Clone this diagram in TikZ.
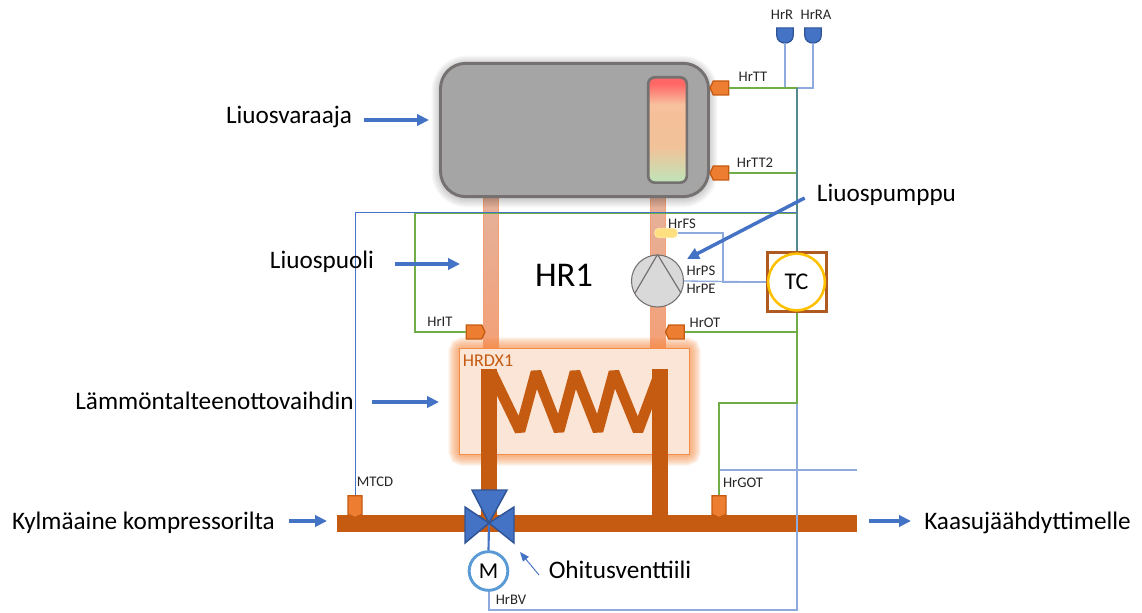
\documentclass[tikz,border=0pt]{standalone}
\usepackage{fontspec}
\setmainfont{Carlito}
\usetikzlibrary{positioning,arrows.meta,shapes.symbols}
\definecolor{pipeorange}{RGB}{197, 90, 17}
\definecolor{sensorfill}{RGB}{237, 125, 49}
\definecolor{arrowblue}{RGB}{68, 114, 196}
\definecolor{signalblue}{RGB}{143, 170, 220}
\definecolor{signalgreen}{RGB}{112, 173, 71}
\definecolor{valveedge}{RGB}{47, 85, 151}
\definecolor{tankgrey}{RGB}{165, 165, 165}
\definecolor{tankedge}{RGB}{118, 113, 113}
\definecolor{glow}{RGB}{244, 140, 70}
\definecolor{hxfill}{RGB}{251, 229, 214}
\definecolor{tcbrown}{RGB}{174, 90, 33}
\definecolor{tcyellow}{RGB}{255, 192, 0}
\definecolor{motorblue}{RGB}{91, 155, 213}
\definecolor{pipetop}{RGB}{228, 178, 156}
\definecolor{pipebottom}{RGB}{244, 160, 118}
\pgfdeclareverticalshading{gaugefill}{100bp}{
  rgb(0bp)=(.77,.88,.71);
  rgb(27bp)=(.77,.88,.71); rgb(42bp)=(.95,.76,.60); rgb(58bp)=(.96,.75,.60);
  rgb(62bp)=(.97,.76,.62); rgb(72bp)=(1,.40,.40); rgb(100bp)=(1,.40,.40)}
\tikzset{
  bigtext/.style={font=\fontsize{18.9}{21}\selectfont, inner sep=0pt},
  smalllabel/.style={font=\fontsize{11}{13}\selectfont, inner sep=0pt, text=black!85},
  leftsensor/.style={signal, signal to=west, signal from=nowhere, signal pointer angle=130, draw=pipeorange, fill=sensorfill,
    line width=1pt, inner sep=0pt, minimum width=14pt, minimum height=10.5pt},
  rightsensor/.style={leftsensor, signal to=east},
  downsensor/.style={leftsensor, signal to=south, minimum width=10.5pt, minimum height=14pt},
  greenline/.style={signalgreen, line width=1.5pt},
  blueline/.style={signalblue, line width=1pt},
  thinblue/.style={arrowblue, line width=.7pt},
  callout/.style={arrowblue, line width=2.3pt, -{Triangle[length=9pt,width=8.5pt]}},
  tubepipe/.style={top color=pipetop, bottom color=pipebottom, draw=pipebottom, line width=.7pt},
  pipewall/.style={pipeorange, line width=12.5pt},
  valvepart/.style={fill=arrowblue, draw=valveedge, line width=1.1pt},
}
\begin{document}
\begin{tikzpicture}[x=.75pt,y=-.75pt]
\useasboundingbox (0,0) rectangle (1142,613);

% Pipes from the tank
\path[tubepipe] (483,196) rectangle (498,350);
\path[tubepipe] (650,196) rectangle (665,350);

% Shadow and tank
\foreach \w in {2,4,...,14} {
    \draw[black, opacity=.03, line width=\w pt, rounded corners=19pt] (441,65) rectangle (708,198);
}
\node[draw=tankedge, fill=tankgrey, line width=2.2pt, rounded corners=19pt, minimum width=201pt, minimum height=100pt, inner sep=0pt] (tank) at (574.5,130) {};
\node[draw=tankedge, shading=gaugefill, line width=2pt, rounded corners=5pt, minimum width=29pt, minimum height=79pt, inner sep=0pt] (gauge) at (667.5,130) {};

% Heat exchanger glow and box
\foreach \w in {2,4,...,16} {
    \draw[glow, opacity=.12, line width=\w pt, rounded corners=3pt] (459,348) rectangle (690,455);
}
\node[draw=glow, fill=hxfill, line width=.9pt, minimum width=173pt, minimum height=80pt, inner sep=0pt] (hrdx) at (574.5,401.5) {};
\node[font=\fontsize{13.5}{15}\selectfont, text=pipeorange, inner sep=0pt] (hrdxlabel) at (488,361) {HRDX1};

% Junctions on the signal lines
\coordinate (busTop) at (797,88);
\coordinate (busBottom) at (797,610);
\coordinate (busTurn) at (797,403);
\coordinate (leftTop) at (355,212);
\coordinate (greenTop) at (415,213);
\coordinate (gotRight) at (857,470);
\coordinate (fsTurn) at (723,233);

% Sensors
\node[leftsensor] (hrTT) at (721,88) {};
\node[leftsensor] (hrTT2) at (721,173) {};
\node[rightsensor] (hrIT) at (474,332) {};
\node[leftsensor] (hrOT) at (676.5,332) {};
\node[draw=tcbrown, line width=2.3pt, minimum size=44pt, inner sep=0pt] (tc) at (797,282) {};
\node[draw=tcyellow, fill=white, circle, line width=1.9pt, minimum size=42.5pt, inner sep=0pt, font=\fontsize{18}{20}\selectfont] (tccircle) at (796.5,282) {TC};
\node[draw=tankedge, fill=black!15, circle, line width=.8pt, minimum size=39pt, inner sep=0pt] (pump) at (657.5,281) {};
\node[fill=tcyellow!50!white, draw=tcyellow!35!white, rounded corners=3pt, line width=.6pt, minimum width=17pt, minimum height=7pt, inner sep=0pt] (hrFS) at (666,233) {};
\draw[tankedge, line width=.9pt] (pump.north) -- (635,293);
\draw[tankedge, line width=.9pt] (pump.north) -- (681,293);

% Two alarm sensors
\foreach \x/\name in {785/hrR,813/hrRA} {
    \node[inner sep=0pt, minimum width=12pt, minimum height=11pt] (\name) at (\x,35.5) {};
    \filldraw[fill=arrowblue, draw=valveedge, line width=.9pt] (\name.north west) -- (\name.north east) -- (\name.east) .. controls +(0,5) and +(4,0) .. (\name.south) .. controls +(-4,0) and +(0,5) .. (\name.west) -- cycle;
}

% Coil and refrigerant pipe
\draw[pipeorange, line width=8pt, line join=bevel] (491,371) -- (520,431) -- (536,372) -- (559,431) -- (575,372) -- (598,431) -- (614,372) -- (638,431) -- (660,372);
\draw[pipewall] (489,369) -- (489,515);
\draw[pipewall] (660,369) -- (660,515);
\fill[pipeorange] (337,515) rectangle (857,532);

% Sensors on the pipe
\node[downsensor] (mtcd) at (355,505) {};
\node[downsensor] (hrGOT) at (719,505) {};

% Signal lines
\draw[blueline] (hrR.south) |- (busTop);
\draw[blueline] (hrRA.south) |- (busTop);
\draw[blueline] (tc.south) -- (busBottom) -| (489,591);
\draw[blueline] (hrGOT.north) |- (gotRight);
\draw[greenline] (hrTT.east) -- (busTop) -- (tc.north);
\draw[greenline] (hrTT2.east) -- (hrTT2.east -| busTop);
\draw[greenline] (hrIT.west) -| (greenTop) -- (greenTop -| busTop);
\draw[greenline] (tc.south) -- (busTurn) -| (hrGOT.north);
\draw[greenline] (hrOT.east) -- (hrOT.east -| busTop);
\draw[arrowblue, opacity=.6, line width=1pt] (busTop) -- (tc.north);
\draw[thinblue] (mtcd.north) -- (leftTop) -- (leftTop -| busTop);
\draw[blueline] (hrFS.east) -- (fsTurn) |- (tc.west);
\draw[blueline] (pump.east) -- (tc.west);

% Valve and motor
\coordinate (valve) at (489,523);
\node[draw=motorblue, fill=white, circle, line width=2.2pt, minimum size=29pt, inner sep=0pt, font=\fontsize{17}{19}\selectfont] (motor) at (488.5,571) {M};
\draw[arrowblue, line width=1.6pt] (valve) -- (motor.north);
\filldraw[valvepart] (valve) -- (472,490) -- (507,490) -- cycle;
\filldraw[valvepart] (valve) -- (465,507) -- (465,543) -- cycle;
\filldraw[valvepart] (valve) -- (514,507) -- (514,543) -- cycle;

% Small labels
\node[smalllabel] (lblR) at (782,15) {HrR};
\node[smalllabel] (lblRA) at (816,15) {HrRA};
\node[smalllabel] (lblTT) at (753,77) {HrTT};
\node[smalllabel] (lblTT2) at (755,163) {HrTT2};
\node[smalllabel] (lblFS) at (682,224) {HrFS};
\node[smalllabel] (lblPS) at (701,271) {HrPS};
\node[smalllabel] (lblPE) at (701,289) {HrPE};
\node[smalllabel] (lblIT) at (440,322) {HrIT};
\node[smalllabel] (lblOT) at (705,323) {HrOT};
\node[smalllabel] (lblMTCD) at (375,482) {MTCD};
\node[smalllabel] (lblGOT) at (743,483) {HrGOT};
\node[smalllabel] (lblBV) at (511,600) {HrBV};

% Big labels
\node[font=\fontsize{26}{28}\selectfont, inner sep=0pt] (hrone) at (564,275) {HR1};
\node[bigtext] (varaaja) at (289,117) {Liuosvaraaja};
\node[bigtext] (puoli) at (322,261.5) {Liuospuoli};
\node[bigtext] (vaihdin) at (214.5,400.5) {Lämmöntalteenottovaihdin};
\node[bigtext] (kompressori) at (143.5,523) {Kylmäaine kompressorilta};
\node[bigtext] (kaasu) at (1027.5,523) {Kaasujäähdyttimelle};
\node[bigtext] (venttiili) at (620,570) {Ohitusventtiili};
\node[bigtext] (pumppu) at (886.5,195) {Liuospumppu};

% Callout arrows
\coordinate (varaajaTip) at (429,120);
\coordinate (puoliTip) at (460,264);
\coordinate (vaihdinTip) at (439,402);
\coordinate (kompTip) at (327,521);
\coordinate (kaasuStart) at (869,521);
\coordinate (kaasuTip) at (911,521);
\coordinate (pumpTip) at (687,259);
\coordinate (valveTip) at (520,552);
\draw[callout] (varaaja.east |- varaajaTip) ++(12,0) -- (varaajaTip);
\draw[callout] (puoli.east |- puoliTip) ++(21,0) -- (puoliTip);
\draw[callout] (vaihdin.east |- vaihdinTip) ++(18,0) -- (vaihdinTip);
\draw[callout] (kompressori.east |- kompTip) ++(14,0) -- (kompTip);
\draw[callout] (kaasuStart) -- (kaasuTip);
\draw[callout, line width=2.6pt] (pumppu.west) ++(-12,3) -- (pumpTip);
\draw[thinblue, -{Triangle[length=7pt,width=5.5pt]}] (539,575) -- (valveTip);
\end{tikzpicture}
\end{document}
